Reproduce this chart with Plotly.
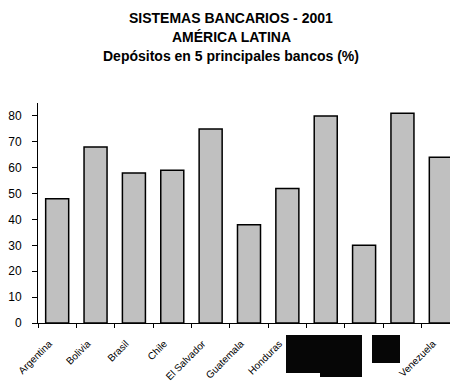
import plotly.graph_objects as go

countries = ["Argentina", "Bolivia", "Brasil", "Chile", "El Salvador", "Guatemala",
             "Honduras", "México", "Paraguay", "Perú", "Venezuela"]
deposits = [48, 68, 58, 59, 75, 38, 52, 80, 30, 81, 64]
y_ticks = [0, 10, 20, 30, 40, 50, 60, 70, 80]
title_lines = ["SISTEMAS BANCARIOS - 2001", "AMÉRICA LATINA", "Depósitos en 5 principales bancos (%)"]

W, H = 458, 383
OFF = 8  # page body margin
L, R, T, B = 30, 6, 95, 68
pw, ph = W - L - R, H - T - B

def px_x(x):
    return (x - OFF - L) / pw

def px_y(y):
    return (H - B - (y - OFF)) / ph

fig = go.Figure(go.Bar(
    x=countries, y=deposits, width=0.6,
    marker=dict(color="#C0C0C0", line=dict(color="black", width=1.5)),
))

fig.update_layout(
    width=W, height=H,
    margin=dict(l=L, r=R, t=T, b=B),
    paper_bgcolor="white", plot_bgcolor="white",
    showlegend=False,
    font=dict(family="Arial, Liberation Sans", color="black"),
)
fig.update_xaxes(
    range=[-0.5, 10.5], showline=True, linecolor="black", linewidth=1,
    ticks="outside", tickson="boundaries", ticklen=4, tickcolor="black",
    tickangle=-45, tickfont=dict(size=10, family="Arial, Liberation Sans"),
    ticklabelstandoff=10, ticklabelshift=-8,
    showgrid=False, fixedrange=True, automargin=False,
)
fig.update_yaxes(
    range=[0, 85], tickvals=y_ticks, showline=True, linecolor="black", linewidth=1,
    ticks="outside", ticklen=5, tickcolor="black",
    tickfont=dict(size=12, family="Arial, Liberation Sans"),
    ticklabelstandoff=8,
    showgrid=False, zeroline=False, automargin=False,
)

for i, (txt, yc) in enumerate(zip(title_lines, [18, 37, 56])):
    fig.add_annotation(
        text=f"<b>{txt}</b>", xref="paper", yref="paper",
        x=px_x(231), y=px_y(yc), xanchor="center", yanchor="middle",
        showarrow=False, font=dict(size=14, family="Arial, Liberation Sans", color="black"),
    )

# redaction boxes over three labels (as in the reference image)
for (x0, y0, x1, y1) in [(286, 335, 320, 373), (320, 335, 362, 377), (372, 335, 400, 363)]:
    fig.add_shape(type="rect", xref="paper", yref="paper",
                  x0=px_x(x0), x1=px_x(x1), y0=px_y(y1), y1=px_y(y0),
                  fillcolor="#060606", line=dict(width=0), layer="above")

fig.write_html("out.html")
